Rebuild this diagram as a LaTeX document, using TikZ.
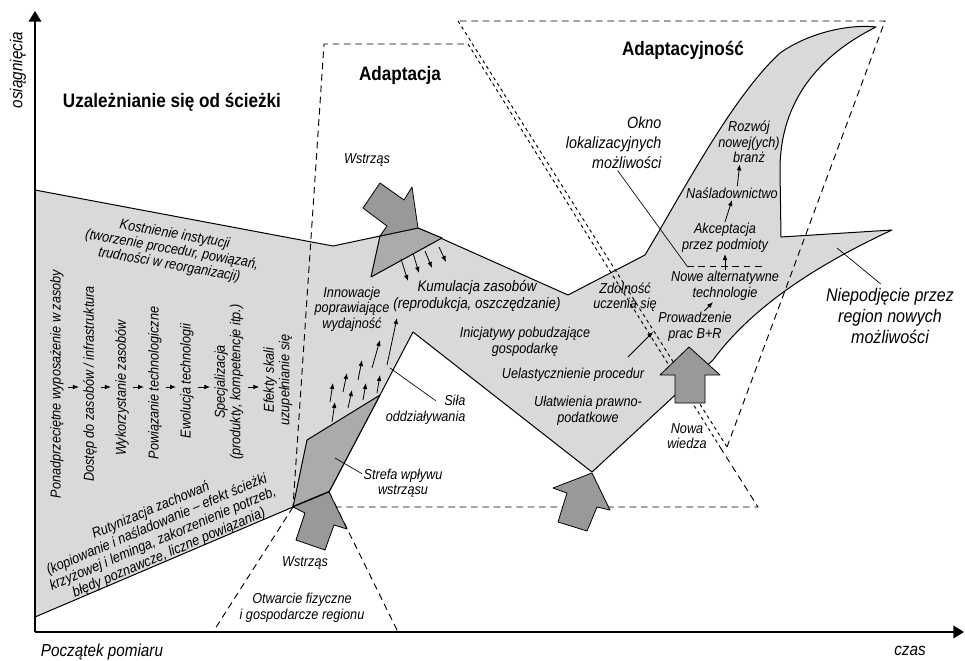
\documentclass[tikz,border=0pt]{standalone}
\usepackage{fontspec}
\setmainfont{Liberation Sans}[FakeStretch=0.88]
\usepackage{tikz}
\usetikzlibrary{arrows.meta}

\begin{document}
\begin{tikzpicture}[x=0.75pt, y=-0.75pt,
    txt/.style={font=\fontsize{10.8}{11.6}\selectfont\itshape, align=center, inner sep=1pt},
    txtl/.style={txt, font=\fontsize{13}{15}\selectfont\itshape},
    ttl/.style={font=\fontsize{14.6}{16}\selectfont\bfseries, inner sep=1pt},
    col/.style={txt, rotate=90},
    area/.style={draw=black, fill=gray!30, line width=0.75pt, line join=round},
    zone/.style={draw=black, fill=gray!66, line width=0.75pt, line join=round},
    shock/.style={draw=black, fill=gray!80, line width=0.6pt, line join=round},
    dsh/.style={dash pattern=on 5pt off 3.5pt, line width=0.7pt},
    dshd/.style={dash pattern=on 2.5pt off 2.5pt, line width=0.7pt},
    ax/.style={line width=1.1pt, -{Triangle[length=8pt,width=9.5pt]}},
    arr/.style={-{Latex[length=4.5pt,width=3.5pt]}, line width=0.6pt},
    ldr/.style={line width=0.5pt},
  ]
    \useasboundingbox (0,0) rectangle (965,661);

    % gray trajectory of the region
    \draw[area] (35,190) -- (333,246) -- (418,228) -- (568,295) -- (645,255) -- (658,233)
      .. controls (700,160) and (740,90) .. (780,53)
      .. controls (810,32) and (850,24) .. (876,27)
      .. controls (820,55) and (780,100) .. (780,170)
      -- (781,237) -- (892,230)
      .. controls (810,268) and (750,310) .. (713,360)
      -- (592,472) -- (413,332) -- (380,395) -- (329,492) -- (293,507) -- (35,617) -- cycle;

    % shock zones
    \draw[zone] (380,236) -- (418,228) -- (442,238) -- (371,277) -- cycle;
    \draw[zone] (293,507) -- (307,440) -- (380,395) -- (329,492) -- cycle;
    \draw[line width=1.5pt] (293,507) -- (329,492);

    % dashed regions
    \draw[dsh] (720,447) -- (758,507) -- (293,507) -- (324,44) -- (468,44);
    \draw[dshd] (468,44) -- (720,447);
    \draw[dsh] (727,447) -- (885,21) -- (458,21);
    \draw[dshd] (458,21) -- (727,447);
    \draw[dsh] (293,507) -- (213,632);
    \draw[dsh] (329,492) -- (398,632);

    % shock arrows
    \draw[shock] (418,228) -- (412,187) -- (404,200) -- (380,183) -- (363,208) -- (387,226) -- (380,236) -- cycle;
    \draw[shock] (329,492) -- (347,529) -- (334,525) -- (325,550) -- (296,540) -- (305,513) -- (293,507) -- cycle;
    \draw[shock] (592,473) -- (610,510) -- (597,507) -- (587,531) -- (558,522) -- (567,493) -- (553,488) -- cycle;
    \draw[shock] (689,347) -- (720,375) -- (705,375) -- (705,403) -- (675,403) -- (675,375) -- (660,375) -- cycle;

    % small force arrows
    \foreach \xa/\ya/\xb/\yb in {401/259/408/281, 413/253/419/273, 425/251/432/268, 439/247/446/262,
        332/422/335/402, 348/408/352/390, 363/400/366/383, 377/393/380/375,
        330/402/333/383, 343/392/347/373, 358/380/362/360, 372/368/380/340, 387/365/397/318}
      \draw[arr] (\xa,\ya) -- (\xb,\yb);

    % axes
    \coordinate (org) at (35,632);
    \coordinate (ytop) at (35,11);
    \coordinate (xend) at (964,632);
    \draw[ax] (org) -- (ytop);
    \draw[ax] (org) -- (xend);
    \node[txtl, rotate=90] (osi) at (18,70) {osiągnięcia};
    \node[txtl] (pocz) at (102,652) {Początek pomiaru};
    \node[txtl] (czas) at (910,651) {czas};

    % titles
    \node[ttl] (uza) at (172,102) {Uzależnianie się od ścieżki};
    \node[ttl] (adapt) at (400,75) {Adaptacja};
    \node[ttl] (adaptc) at (683,50) {Adaptacyjność};

    % path dependence
    \node[txt, rotate=-10] (kost) at (172,250) {Kostnienie instytucji\\(tworzenie procedur, powiązań,\\trudności w reorganizacji)};
    \node[txt, rotate=23] (ruty) at (160,532) {Rutynizacja zachowań\\(kopiowanie i naśladowanie – efekt ścieżki\\krzyżowej i leminga, zakorzenienie potrzeb,\\błędy poznawcze, liczne powiązania)};
    \node[col] (c1) at (57,384) {Ponadprzeciętne wyposażenie w zasoby};
    \node[col] (c2) at (90,384) {Dostęp do zasobów / infrastruktura};
    \node[col] (c3) at (122,388) {Wykorzystanie zasobów};
    \node[col] (c4) at (155,383) {Powiązanie technologiczne};
    \node[col] (c5) at (187,381) {Ewolucja technologii};
    \node[col] (c6) at (229,382) {Specjalizacja\\(produkty, kompetencje itp.)};
    \node[col] (c7) at (278,380) {Efekty skali\\uzupełnianie się};
    \foreach \a/\b in {c1/c2, c2/c3, c3/c4, c4/c5, c5/c6, c6/c7}
      \draw[arr, shorten <=2pt, shorten >=2pt] (\a.south |- 0,387) -- (\b.north |- 0,387);

    % adaptation
    \node[txt] (wstrz1) at (367,160) {Wstrząs};
    \node[txt] (wstrz2) at (305,563) {Wstrząs};
    \node[txt] (otw) at (302,608) {Otwarcie fizyczne\\i gospodarcze regionu};
    \node[txt] (innow) at (352,309) {Innowacje\\poprawiające\\wydajność};
    \node[txt, font=\fontsize{11.4}{13}\selectfont\itshape] (kumul) at (477,296) {Kumulacja zasobów\\(reprodukcja, oszczędzanie)};
    \node[txt, align=right, anchor=east] (sila) at (467,410) {Siła\\oddziaływania};
    \node[txt] (strefa) at (403,483) {Strefa wpływu\\wstrząsu};
    \node[txt] (inic) at (525,342) {Inicjatywy pobudzające\\gospodarkę};
    \node[txt] (uelast) at (573,375) {Uelastycznienie procedur};
    \node[txt] (ulatw) at (588,411) {Ułatwienia prawno-\\podatkowe};
    \coordinate (silap) at (390,368);
    \coordinate (strp) at (335,458);
    \draw[ldr] ([xshift=7.5pt,yshift=-5pt]sila.north) -- (silap);
    \draw[ldr] ([yshift=7pt]strefa.west) -- (strp);

    % adaptability
    \node[txt] (zdol) at (625,297) {Zdolność\\uczenia się};
    \node[txt] (prow) at (695,327) {Prowadzenie\\prac B+R};
    \node[txt] (nowe) at (725,286) {Nowe alternatywne\\technologie};
    \node[txt] (akc) at (725,238) {Akceptacja\\przez podmioty};
    \node[txt] (nas) at (732,193) {Naśladownictwo};
    \node[txt] (rozw) at (749,142) {Rozwój\\nowej(ych)\\branż};
    \node[txtl, font=\fontsize{12.2}{15}\selectfont\itshape, align=right, anchor=east] (okno) at (663,143) {Okno\\lokalizacyjnych\\możliwości};
    \node[txt] (nowaw) at (687,436) {Nowa\\wiedza};
    \node[txtl, font=\fontsize{13.7}{15.8}\selectfont\itshape] (niep) at (890,316) {Niepodjęcie przez\\region nowych\\możliwości};
    \draw[arr] ([xshift=7pt]prow.north) -- ([xshift=-9pt]nowe.south);
    \draw[arr] (nowe.north) -- (akc.south);
    \draw[arr] (akc.north) -- (nas.south);
    \draw[arr] ([xshift=4pt]nas.north) -- ([xshift=-7pt]rozw.south);
    \coordinate (bra) at (628,357);
    \coordinate (brb) at (653,332);
    \draw[arr] (bra) -- (brb);
    \coordinate (okw) at (687,266);
    \coordinate (oke) at (763,266);
    \draw[ldr] ([xshift=3pt]okno.south) -- (okw);
    \draw[dsh] (okw) -- (oke);
    \coordinate (niepp) at (837,248);
    \draw[ldr] ([xshift=-7pt,yshift=2pt]niep.north) -- (niepp);
  \end{tikzpicture}
\end{document}
